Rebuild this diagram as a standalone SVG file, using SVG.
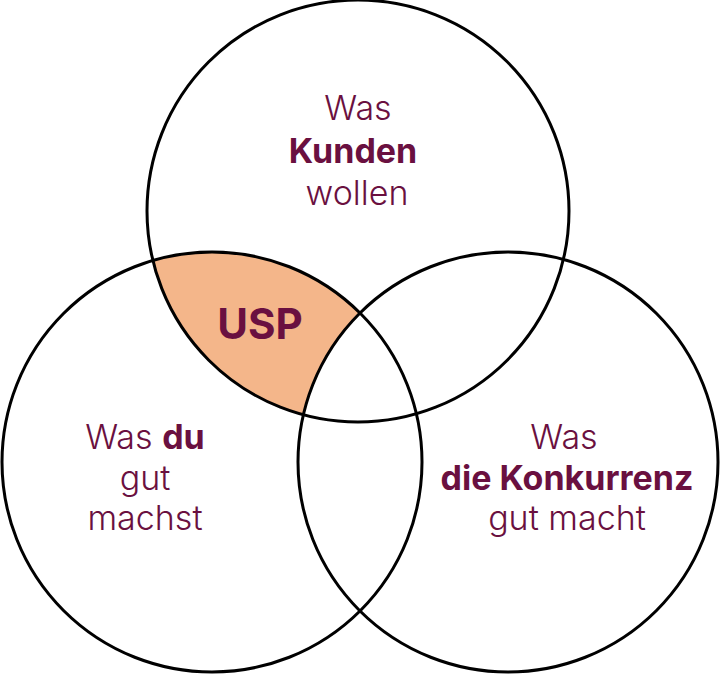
<svg xmlns="http://www.w3.org/2000/svg" width="720" height="675" viewBox="0 0 720 675">
  <style>
    .ring { fill: none; stroke: #000; stroke-width: 3; }
    .lbl { font-family: Inter, "Noto Sans", "Liberation Sans", sans-serif; font-size: 34px; fill: #6a1040; text-anchor: middle; font-weight: 300; }
    .b { font-weight: 700; }
    .usp { font-size: 42px; font-weight: 700; }
  </style>
  <rect width="720" height="675" fill="#fff"/>

  <!-- overlap of "Kunden" and "du", outside "Konkurrenz" -->
  <g id="usp">
    <path d="M152.9,260.5 A210,210 0 0 1 360,313 A210,210 0 0 0 303.4,414.8 A211,211 0 0 1 152.9,260.5 Z" fill="#f4b68a"/>
    <text class="lbl usp" x="260" y="339">USP</text>
  </g>

  <g id="kunden">
    <circle class="ring" cx="358" cy="211" r="211"/>
    <text class="lbl" x="358" y="120">Was</text>
    <text class="lbl b" x="353" y="163">Kunden</text>
    <text class="lbl" x="357" y="205">wollen</text>
  </g>

  <g id="du">
    <circle class="ring" cx="212" cy="462" r="210"/>
    <text class="lbl" x="145" y="449">Was <tspan class="b">du</tspan></text>
    <text class="lbl" x="145" y="490">gut</text>
    <text class="lbl" x="145" y="530">machst</text>
  </g>

  <g id="konkurrenz">
    <circle class="ring" cx="508" cy="462" r="210"/>
    <text class="lbl" x="564" y="449">Was</text>
    <text class="lbl b" x="567" y="490">die Konkurrenz</text>
    <text class="lbl" x="567" y="530">gut macht</text>
  </g>

  <g id="connectors"/>
</svg>
